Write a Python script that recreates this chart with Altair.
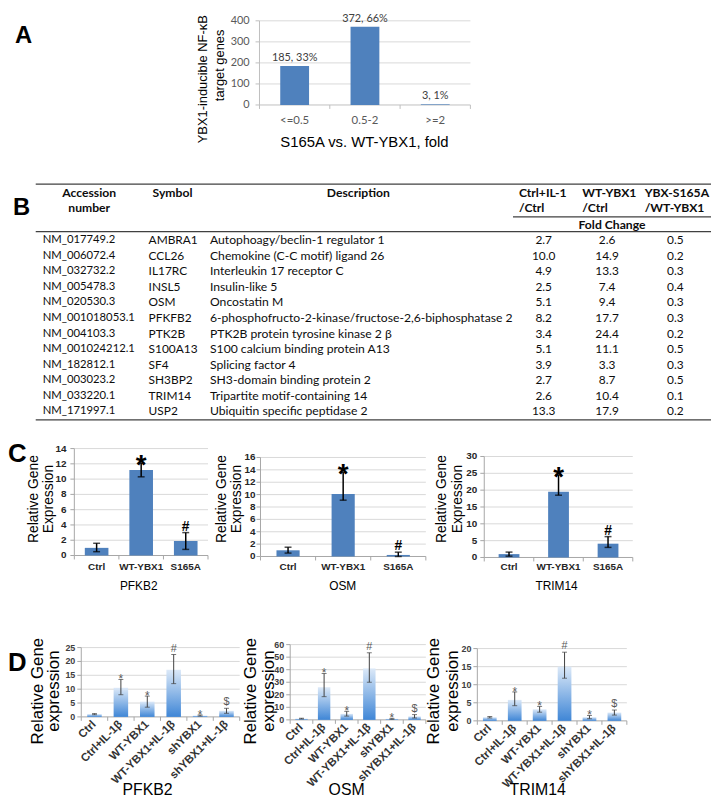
import altair as alt
import pandas as pd

# ------------------------------------------------------------------ data
# Panel A
a_bins = ["<=0.5", "0.5-2", ">=2"]
a_genes = [185, 372, 3]
a_bar_labels = ["185, 33%", "372, 66%", "3, 1%"]
a_ticks = [0, 100, 200, 300, 400]

# Panel B (table)
b_accession = ["NM_017749.2", "NM_006072.4", "NM_032732.2", "NM_005478.3",
               "NM_020530.3", "NM_001018053.1", "NM_004103.3", "NM_001024212.1",
               "NM_182812.1", "NM_003023.2", "NM_033220.1", "NM_171997.1"]
b_symbol = ["AMBRA1", "CCL26", "IL17RC", "INSL5", "OSM", "PFKFB2", "PTK2B",
            "S100A13", "SF4", "SH3BP2", "TRIM14", "USP2"]
b_description = ["Autophoagy/beclin-1 regulator 1",
                 "Chemokine (C-C motif) ligand 26",
                 "Interleukin 17 receptor C",
                 "Insulin-like 5",
                 "Oncostatin M",
                 "6-phosphofructo-2-kinase/fructose-2,6-biphosphatase 2",
                 "PTK2B protein tyrosine kinase 2 \u03b2",
                 "S100 calcium binding protein A13",
                 "Splicing factor 4",
                 "SH3-domain binding protein 2",
                 "Tripartite motif-containing 14",
                 "Ubiquitin specific peptidase 2"]
b_il1_vs_ctrl = [2.7, 10.0, 4.9, 2.5, 5.1, 8.2, 3.4, 5.1, 3.9, 2.7, 2.6, 13.3]
b_wt_vs_ctrl = [2.6, 14.9, 13.3, 7.4, 9.4, 17.7, 24.4, 11.1, 3.3, 8.7, 10.4, 17.9]
b_s165a_vs_wt = [0.5, 0.2, 0.3, 0.4, 0.3, 0.3, 0.2, 0.5, 0.3, 0.5, 0.1, 0.2]

# Panel C
c_groups = ["Ctrl", "WT-YBX1", "S165A"]
c_marks = ["", "*", "#"]
c_pfkb2 = [1.0, 11.2, 1.9]
c_pfkb2_lo = [0.5, 10.3, 0.8]
c_pfkb2_hi = [1.6, 12.1, 3.0]
c_pfkb2_ticks = [0, 2, 4, 6, 8, 10, 12, 14]
c_osm = [1.0, 10.1, 0.25]
c_osm_lo = [0.55, 9.1, 0.0]
c_osm_hi = [1.5, 13.6, 0.7]
c_osm_ticks = [0, 2, 4, 6, 8, 10, 12, 14, 16]
c_trim14 = [1.0, 19.5, 4.1]
c_trim14_lo = [0.4, 18.5, 3.0]
c_trim14_hi = [1.6, 24.5, 6.2]
c_trim14_ticks = [0, 5, 10, 15, 20, 25, 30]

# Panel D
d_groups = ["Ctrl", "Ctrl+IL-1\u03b2", "WT-YBX1", "WT-YBX1+IL-1\u03b2",
            "shYBX1", "shYBX1+IL-1\u03b2"]
d_marks = ["", "*", "*", "#", "*", "$"]
d_pfkb2 = [1.0, 10.5, 5.5, 17.0, 0.5, 2.2]
d_pfkb2_lo = [0.8, 8.0, 3.5, 12.0, 0.3, 1.3]
d_pfkb2_hi = [1.2, 13.5, 7.5, 22.5, 0.7, 3.1]
d_pfkb2_ticks = [0, 5, 10, 15, 20, 25]
d_osm = [1.0, 26.0, 4.8, 41.0, 0.8, 2.8]
d_osm_lo = [0.7, 18.5, 3.0, 30.0, 0.4, 1.5]
d_osm_hi = [1.3, 37.0, 6.8, 53.5, 1.2, 4.2]
d_osm_ticks = [0, 10, 20, 30, 40, 50, 60]
d_trim14 = [1.0, 5.8, 3.2, 15.0, 1.0, 2.3]
d_trim14_lo = [0.8, 4.2, 2.4, 11.8, 0.6, 1.6]
d_trim14_hi = [1.2, 8.0, 4.0, 19.0, 1.5, 3.0]
d_trim14_ticks = [0, 5, 10, 15, 20]

# ------------------------------------------------------------------ helpers
OFF = 8          # page margin: reference pixel -> chart pixel
SANS = "Liberation Sans"
CAL = "Lato"


def P(v):
    return v - OFF


def one(text):
    return pd.DataFrame({"t": [text]})


def label(text, x, y, size=12, weight="normal", font=SANS, align="left",
          baseline="middle", angle=None, color="black"):
    kw = dict(fontSize=size, fontWeight=weight, font=font, align=align,
              baseline=baseline, color=color)
    if angle is not None:
        kw["angle"] = angle
    return alt.Chart(one(text)).mark_text(**kw).encode(
        text="t:N", x=alt.value(P(x)), y=alt.value(P(y)))


def hline(x0, x1, y, color="#404040", width=1.3):
    return alt.Chart(one("")).mark_rule(color=color, strokeWidth=width).encode(
        x=alt.value(P(x0)), x2=alt.value(P(x1)), y=alt.value(P(y)))


def frame(cats, ticks, xs, ys, xr, y0, s):
    tdf = pd.DataFrame({"t": ticks, "lab": [str(t) for t in ticks]})
    L = []
    L.append(alt.Chart(tdf).transform_filter(alt.datum.t > 0).mark_rule(
        color=s["grid"], strokeWidth=1).encode(
        y=alt.Y("t:Q", scale=ys, axis=None),
        x=alt.value(P(xr[0])), x2=alt.value(P(xr[1]))))
    L.append(alt.Chart(tdf).mark_rule(color=s["axis"], strokeWidth=1).encode(
        y=alt.Y("t:Q", scale=ys, axis=None),
        x=alt.value(P(xr[0]) - 4), x2=alt.value(P(xr[0]))))
    L.append(alt.Chart(pd.DataFrame({"a": [ticks[0]], "b": [ticks[-1]]}))
             .mark_rule(color=s["axis"], strokeWidth=1).encode(
        x=alt.value(P(xr[0])), y=alt.Y("a:Q", scale=ys, axis=None), y2="b:Q"))
    L.append(alt.Chart(pd.DataFrame({"a": [ticks[0]]}))
             .mark_rule(color=s["axis"], strokeWidth=1).encode(
        y=alt.Y("a:Q", scale=ys, axis=None),
        x=alt.value(P(xr[0])), x2=alt.value(P(xr[1]))))
    L.append(alt.Chart(pd.DataFrame({"cat": cats})).mark_rule(
        color=s["axis"], strokeWidth=1).encode(
        x=alt.X("cat:N", scale=xs, axis=None, bandPosition=0),
        y=alt.value(P(y0)), y2=alt.value(P(y0) + 4)))
    L.append(alt.Chart(one("")).mark_rule(color=s["axis"], strokeWidth=1).encode(
        x=alt.value(P(xr[1])), y=alt.value(P(y0)), y2=alt.value(P(y0) + 4)))
    L.append(alt.Chart(tdf).mark_text(
        align="right", baseline="middle", font=s["tfont"], fontSize=s["tsize"],
        fontWeight=s["tweight"], color=s["tcolor"]).encode(
        y=alt.Y("t:Q", scale=ys, axis=None),
        x=alt.value(P(s["tright"])), text="lab:N"))
    return L


def bar_panel(cats, mean, lo, hi, marks, ticks, xr, y0, ytop, s):
    df = pd.DataFrame({"cat": cats, "mean": mean, "lo": lo, "hi": hi,
                       "mark": marks})
    xs = alt.Scale(domain=cats, range=[P(xr[0]), P(xr[1])],
                   paddingInner=0, paddingOuter=0)
    ys = alt.Scale(domain=[ticks[0], ticks[-1]], range=[P(y0), P(ytop)],
                   nice=False, zero=True)
    X = alt.X("cat:N", scale=xs, axis=None)
    L = frame(cats, ticks, xs, ys, xr, y0, s)
    base = alt.Chart(df)
    L.append(base.mark_bar(color=s["bar"], width=alt.RelativeBandSize(s["frac"]))
             .encode(x=X, y=alt.Y("mean:Q", scale=ys, axis=None)))
    L.append(base.mark_rule(color=s["ecol"], strokeWidth=s["ew"]).encode(
        x=X, y=alt.Y("lo:Q", scale=ys, axis=None), y2="hi:Q"))
    for f in ["lo", "hi"]:
        L.append(base.mark_tick(orient="horizontal", size=s["cap"],
                                thickness=s["ew"], color=s["ecol"]).encode(
            x=X, y=alt.Y(f + ":Q", scale=ys, axis=None)))
    L.append(base.transform_filter(alt.datum.mark == "*").mark_text(
        font=SANS, fontSize=s["star"], fontWeight=s["mweight"], color=s["mcol"],
        baseline="alphabetic", dy=s["star_dy"]).encode(
        x=X, y=alt.Y("hi:Q", scale=ys, axis=None), text="mark:N"))
    L.append(base.transform_filter((alt.datum.mark != "*") & (alt.datum.mark != ""))
             .mark_text(font=SANS, fontSize=s["sym"], fontWeight=s["mweight"],
                        color=s["mcol"], baseline="alphabetic", dy=s["sym_dy"])
             .encode(x=X, y=alt.Y("hi:Q", scale=ys, axis=None), text="mark:N"))
    if s["rot"]:
        L.append(base.mark_text(angle=315, align="right", baseline="middle",
                                font=SANS, fontSize=s["csize"], fontWeight="bold",
                                color=s["ccol"]).encode(
            x=X, y=alt.value(P(y0) + 6), text="cat:N"))
    else:
        L.append(base.mark_text(align="center", baseline="middle", font=SANS,
                                fontSize=s["csize"], fontWeight="bold",
                                color=s["ccol"]).encode(
            x=X, y=alt.value(P(s["cat_y"])), text="cat:N"))
    return alt.layer(*L)


# ------------------------------------------------------------------ panel A
AY = 6
a_style = dict(grid="#d9d9d9", axis="#bfbfbf", tfont=CAL, tsize=11,
               tweight="normal", tcolor="#595959", tright=252)
a_df = pd.DataFrame({"bin": a_bins, "n": a_genes, "lab": a_bar_labels})
a_xr = [262, 475]
a_xs = alt.Scale(domain=a_bins, range=[P(a_xr[0]), P(a_xr[1])],
                 paddingInner=0, paddingOuter=0)
a_ys = alt.Scale(domain=[0, 400], range=[P(90 + AY), P(5 + AY)], nice=False)
aX = alt.X("bin:N", scale=a_xs, axis=None)
a_layers = frame(a_bins, a_ticks, a_xs, a_ys, a_xr, 90 + AY, a_style)
a_base = alt.Chart(a_df)
a_layers += [
    a_base.mark_bar(color="#4f81bd", width=alt.RelativeBandSize(0.41)).encode(
        x=aX, y=alt.Y("n:Q", scale=a_ys, axis=None)),
    a_base.mark_text(font=CAL, fontSize=11, color="#404040",
                     baseline="alphabetic", dy=-5).encode(
        x=aX, y=alt.Y("n:Q", scale=a_ys, axis=None), text="lab:N"),
    a_base.mark_text(font=CAL, fontSize=11.5, color="#595959",
                     baseline="middle").encode(
        x=aX, y=alt.value(P(106 + AY)), text="bin:N"),
]
panelA = alt.layer(*a_layers)
a_text = [
    label("S165A vs. WT-YBX1, fold", 368, 127 + AY, size=15, align="center"),
    label("YBX1-inducible NF-\u03baB", 205, 64 + AY, size=13, align="center",
          angle=270),
    label("target genes", 222, 50 + AY, size=13, align="center", angle=270),
]

# ------------------------------------------------------------------ panel B
b_df = pd.DataFrame({"row": list(range(len(b_symbol))), "acc": b_accession,
                     "sym": b_symbol, "desc": b_description,
                     "v1": b_il1_vs_ctrl, "v2": b_wt_vs_ctrl, "v3": b_s165a_vs_wt})
b_ys = alt.Scale(domain=[0, len(b_symbol) - 1], range=[P(232.7), P(405.4)],
                 nice=False, zero=False)
BY = alt.Y("row:Q", scale=b_ys, axis=None)
TF = dict(font=CAL, color="#0d0d0d", baseline="middle")
b_layers = []
for col, x, fs in [("acc", 43, 11.4), ("sym", 150, 12.0), ("desc", 212, 12.3)]:
    b_layers.append(alt.Chart(b_df).mark_text(align="left", fontSize=fs, **TF)
                    .encode(y=BY, x=alt.value(P(x)), text=f"{col}:N"))
for col, x in [("v1", 549), ("v2", 613), ("v3", 682)]:
    b_layers.append(alt.Chart(b_df).mark_text(align="center", fontSize=12, **TF)
                    .encode(y=BY, x=alt.value(P(x)),
                            text=alt.Text(f"{col}:Q", format=".1f")))
panelB = alt.layer(*b_layers)
HB = dict(font=CAL, size=12.3, weight="bold", color="#0d0d0d")
b_text = [
    hline(36, 718, 176), hline(518, 718, 209), hline(36, 718, 224),
    hline(36, 718, 414),
    label("Accession", 90, 185, align="center", **HB),
    label("number", 90, 200, align="center", **HB),
    label("Symbol", 154, 185, **HB),
    label("Description", 330, 185, **HB),
    label("Ctrl+IL-1", 524, 185, **HB), label("/Ctrl", 524, 200, **HB),
    label("WT-YBX1", 588, 185, **HB), label("/Ctrl", 588, 200, **HB),
    label("YBX-S165A", 651, 185, **HB), label("/WT-YBX1", 651, 200, **HB),
    label("Fold Change", 618, 217, align="center", **HB),
]

# ------------------------------------------------------------------ panel C
c_style = dict(grid="#d9d9d9", axis="#a6a6a6", tfont=SANS, tsize=10,
               tweight="bold", tcolor="#262626", bar="#4f81bd",
               ecol="black", ew=1.5, cap=7, star=28, sym=14, mweight="bold",
               mcol="black", star_dy=11, sym_dy=-2, rot=False, csize=10,
               ccol="#262626", cat_y=563)
c1 = bar_panel(c_groups, c_pfkb2, c_pfkb2_lo, c_pfkb2_hi, c_marks,
               c_pfkb2_ticks, [75, 210], 551, 443,
               dict(c_style, frac=0.53, tright=67))
c2 = bar_panel(c_groups, c_osm, c_osm_lo, c_osm_hi, c_marks,
               c_osm_ticks, [263, 430], 552, 452,
               dict(c_style, frac=0.42, tright=258))
c3 = bar_panel(c_groups, c_trim14, c_trim14_lo, c_trim14_hi, c_marks,
               c_trim14_ticks, [489, 639], 553, 451,
               dict(c_style, frac=0.42, tright=482))
c_text = []
for x1, x2, tx, title in [(34, 49, 140, "PFKB2"), (224, 239, 346, "OSM"),
                          (446, 463, 562, "TRIM14")]:
    c_text += [
        label("Relative Gene", x1, 494, size=14, align="center", angle=270),
        label("Expression", x2, 494, size=14, align="center", angle=270),
        label(title, tx, 582, size=12, align="center"),
    ]

# ------------------------------------------------------------------ panel D
d_grad = {"gradient": "linear", "x1": 0, "x2": 0, "y1": 0, "y2": 1,
          "stops": [{"offset": 0, "color": "#dce9f8"},
                    {"offset": 1, "color": "#3f86d6"}]}
d_style = dict(grid="#d9d9d9", axis="#a6a6a6", tfont=SANS, tsize=9,
               tweight="bold", tcolor="#404040", bar=d_grad, frac=0.55,
               ecol="#404040", ew=1, cap=5, star=12, sym=11, mweight="normal",
               mcol="#595959", star_dy=4, sym_dy=-3, rot=True, csize=11.5,
               ccol="#333333")
d1 = bar_panel(d_groups, d_pfkb2, d_pfkb2_lo, d_pfkb2_hi, d_marks,
               d_pfkb2_ticks, [82, 242], 714, 644, dict(d_style, tright=76))
d2 = bar_panel(d_groups, d_osm, d_osm_lo, d_osm_hi, d_marks,
               d_osm_ticks, [293, 430], 717, 641, dict(d_style, tright=287))
d3 = bar_panel(d_groups, d_trim14, d_trim14_lo, d_trim14_hi, d_marks,
               d_trim14_ticks, [482, 633], 718, 645, dict(d_style, tright=476))
d_text = []
for x1, x2, tx, title in [(38, 55, 149, "PFKB2"), (253, 272, 350, "OSM"),
                          (438, 457, 543, "TRIM14")]:
    d_text += [
        label("Relative Gene", x1, 688, size=17, align="center", angle=270),
        label("expression", x2, 688, size=17, align="center", angle=270),
        label(title, tx, 788, size=16, align="center"),
    ]

# ------------------------------------------------------------------ letters
letters = [
    label("A", 15, 27 + AY, size=24, weight="bold", baseline="alphabetic"),
    label("B", 13, 207, size=24, weight="bold", baseline="alphabetic"),
    label("C", 8, 457, size=26, weight="bold", baseline="alphabetic"),
    label("D", 8, 668, size=26, weight="bold", baseline="alphabetic"),
]

chart = alt.layer(
    panelA, panelB, c1, c2, c3, d1, d2, d3,
    *a_text, *b_text, *c_text, *d_text, *letters,
).resolve_scale(x="independent", y="independent").properties(
    width=704, height=783, padding=0
).configure_view(stroke=None)

chart.save("out.html", embed_options={"renderer": "svg", "actions": False})
